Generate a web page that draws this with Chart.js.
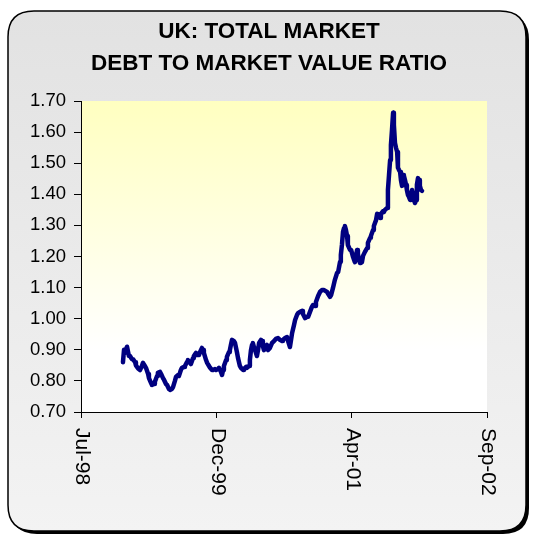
<!DOCTYPE html>
<html>
<head>
<meta charset="utf-8">
<script src="https://cdn.jsdelivr.net/npm/chart.js@4.4.1/dist/chart.umd.min.js"></script>
<style>
  html, body { margin: 0; padding: 0; background: #ffffff; }
  #wrap { width: 533px; height: 536px; position: relative; }
</style>
</head>
<body>
<div id="wrap"><canvas id="c" width="533" height="536"></canvas></div>
<script>
// Days since 31-Jul-1998
const days = [155,159,163,170,177,181,188,192,200,203,211,218,225,229,236,240,248,251,259,262,270,273,281,284,292,296,303,307,314,318,325,329,336,340,347,351,358,362,369,373,381,384,392,395,403,406,414,417,425,429,436,440,447,451,454,462,466,473,477,484,488,495,499,506,510,517,521,525,528,536,539,547,550,554,558,565,569,576,580,587,591,599,602,610,613,621,624,628,632,635,639,643,650,654,658,665,669,672,676,683,687,691,698,706,713,720,728,735,743,746,754,761,765,772,776,780,787,791,798,802,809,817,820,828,835,839,846,853,857,865,868,876,883,890,898,901,909,913,920,924,931,938,946,950,957,960,964,968,972,975,979,983,986,994,998,1005,1009,1012,1016,1020,1023,1027,1031,1034,1038,1042,1049,1057,1060,1068,1071,1079,1082,1090,1094,1097,1105,1108,1116,1119,1123,1131,1134,1138,1142,1145,1149,1153,1156,1160,1164,1168,1171,1175,1179,1182,1186,1190,1193,1197,1201,1204,1208,1212,1216,1219,1223,1227,1230,1234,1238,1241,1245,1249,1252,1256,1260];
const ratio = [0.86,0.90,0.89,0.91,0.88,0.88,0.87,0.87,0.86,0.85,0.84,0.835,0.848,0.858,0.848,0.842,0.822,0.809,0.793,0.787,0.790,0.797,0.816,0.826,0.829,0.822,0.809,0.803,0.790,0.787,0.774,0.771,0.774,0.780,0.800,0.813,0.819,0.816,0.835,0.842,0.845,0.848,0.861,0.867,0.858,0.854,0.874,0.880,0.890,0.883,0.883,0.893,0.906,0.899,0.890,0.867,0.858,0.848,0.842,0.835,0.835,0.838,0.835,0.838,0.842,0.829,0.819,0.835,0.848,0.867,0.877,0.893,0.899,0.916,0.932,0.928,0.922,0.893,0.874,0.848,0.842,0.835,0.838,0.845,0.842,0.848,0.867,0.899,0.916,0.922,0.909,0.899,0.880,0.899,0.922,0.932,0.928,0.912,0.899,0.906,0.916,0.899,0.906,0.922,0.928,0.935,0.938,0.932,0.928,0.932,0.938,0.941,0.928,0.909,0.932,0.954,0.980,0.996,1.012,1.018,1.022,1.025,1.015,1.002,1.006,1.006,1.022,1.038,1.044,1.041,1.054,1.073,1.086,1.092,1.092,1.092,1.086,1.080,1.070,1.076,1.099,1.125,1.147,1.150,1.183,1.205,1.237,1.279,1.292,1.298,1.285,1.266,1.237,1.221,1.221,1.199,1.189,1.182,1.202,1.221,1.208,1.189,1.179,1.182,1.182,1.202,1.215,1.227,1.244,1.260,1.266,1.285,1.298,1.317,1.337,1.334,1.324,1.337,1.346,1.343,1.350,1.356,1.414,1.462,1.510,1.558,1.607,1.662,1.623,1.565,1.549,1.536,1.485,1.478,1.472,1.446,1.427,1.462,1.459,1.446,1.430,1.414,1.398,1.391,1.382,1.398,1.414,1.398,1.382,1.372,1.382,1.430,1.452,1.446,1.427,1.414,1.411];
const xTickDays = [0, 500, 1000, 1500];
const xTickLabels = ['Jul-98', 'Dec-99', 'Apr-01', 'Sep-02'];
const yMin = 0.70, yMax = 1.70, yStep = 0.10;
const titleLines = ['UK: TOTAL MARKET', 'DEBT TO MARKET VALUE RATIO'];

const FONT = "'Liberation Sans', Arial, sans-serif";

function roundRect(ctx, x, y, w, h, r) {
  ctx.beginPath();
  ctx.moveTo(x + r, y);
  ctx.lineTo(x + w - r, y);
  ctx.quadraticCurveTo(x + w, y, x + w, y + r);
  ctx.lineTo(x + w, y + h - r);
  ctx.quadraticCurveTo(x + w, y + h, x + w - r, y + h);
  ctx.lineTo(x + r, y + h);
  ctx.quadraticCurveTo(x, y + h, x, y + h - r);
  ctx.lineTo(x, y + r);
  ctx.quadraticCurveTo(x, y, x + r, y);
  ctx.closePath();
}

const backgroundPlugin = {
  id: 'bg',
  beforeDraw(chart) {
    const ctx = chart.ctx;
    const ca = chart.chartArea;
    ctx.save();
    // shadow
    roundRect(ctx, 11, 14, 518, 520, 26);
    ctx.fillStyle = '#000000';
    ctx.fill();
    // frame
    const g = ctx.createLinearGradient(0, 11, 0, 531);
    g.addColorStop(0, '#e2e2e2');
    g.addColorStop(1, '#f3f3f3');
    roundRect(ctx, 8, 11, 518, 520, 26);
    ctx.fillStyle = g;
    ctx.fill();
    ctx.lineWidth = 1.5;
    ctx.strokeStyle = '#000000';
    ctx.stroke();
    // plot area
    const pg = ctx.createLinearGradient(0, ca.top, 0, ca.bottom);
    pg.addColorStop(0, '#ffffc0');
    pg.addColorStop(0.8, '#ffffff');
    pg.addColorStop(1, '#ffffff');
    ctx.fillStyle = pg;
    ctx.fillRect(ca.left, ca.top, ca.right - ca.left, ca.bottom - ca.top);
    // title
    ctx.fillStyle = '#000000';
    ctx.font = 'bold 22.5px ' + FONT;
    ctx.textAlign = 'center';
    ctx.textBaseline = 'middle';
    ctx.fillText(titleLines[0], 269, 32);
    ctx.fillText(titleLines[1], 269, 63.5);
    ctx.restore();
  },
  afterDraw(chart) {
    const ctx = chart.ctx;
    const xs = chart.scales.x;
    ctx.save();
    ctx.fillStyle = '#000000';
    ctx.font = '21px ' + FONT;
    ctx.textAlign = 'left';
    ctx.textBaseline = 'middle';
    xTickDays.forEach((d, i) => {
      const px = xs.getPixelForValue(d);
      ctx.save();
      ctx.translate(px + 1, xs.top + 16);
      ctx.rotate(Math.PI / 2);
      ctx.fillText(xTickLabels[i], 0, 0);
      ctx.restore();
    });
    ctx.restore();
  }
};

const chart = new Chart(document.getElementById('c'), {
  type: 'line',
  data: {
    datasets: [{
      data: days.map((d, i) => ({ x: d, y: ratio[i] })),
      borderColor: '#000080',
      borderWidth: 4.5,
      pointRadius: 0,
      tension: 0,
      borderJoinStyle: 'round',
      borderCapStyle: 'round',
      fill: false
    }]
  },
  options: {
    responsive: false,
    animation: false,
    devicePixelRatio: 1,
    layout: { padding: { left: 0, right: 46, top: 101, bottom: 0 } },
    plugins: {
      legend: { display: false },
      tooltip: { enabled: false },
      title: { display: false }
    },
    scales: {
      x: {
        type: 'linear',
        min: 0,
        max: 1500,
        afterBuildTicks(scale) { scale.ticks = xTickDays.map(v => ({ value: v })); },
        afterFit(scale) { scale.height = 124; },
        ticks: { display: false },
        grid: { drawOnChartArea: false, drawTicks: true, tickLength: 6, color: '#000000' },
        border: { display: true, color: '#000000', width: 1 }
      },
      y: {
        min: yMin,
        max: yMax,
        afterFit(scale) { scale.width = 81; },
        ticks: {
          stepSize: yStep,
          color: '#000000',
          font: { family: FONT, size: 18.5 },
          padding: 8,
          callback: v => Number(v).toFixed(2)
        },
        grid: { drawOnChartArea: false, drawTicks: true, tickLength: 7, color: '#000000' },
        border: { display: true, color: '#000000', width: 1 }
      }
    }
  },
  plugins: [backgroundPlugin]
});
</script>
</body>
</html>
